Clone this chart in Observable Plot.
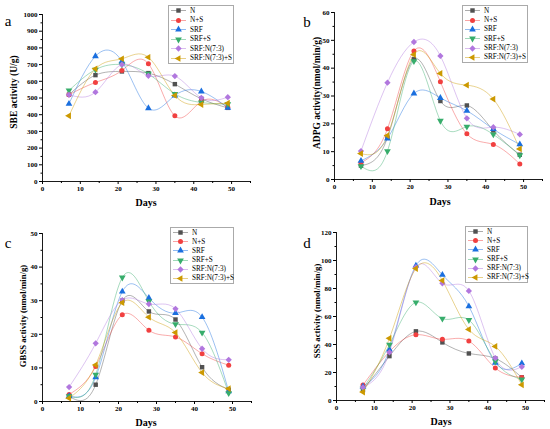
<!DOCTYPE html>
<html><head><meta charset="utf-8">
<script src="https://cdn.jsdelivr.net/npm/d3@7"></script>
<script src="https://cdn.jsdelivr.net/npm/@observablehq/plot@0.6"></script>
<style>
body{margin:0;background:#fff;font-family:"Liberation Serif",serif;}
#wrap{position:relative;width:550px;height:429px;overflow:hidden;background:#fff}
.panel{position:absolute;width:275px;height:214px}
.panel svg{position:absolute;left:0;top:0}
.ylab,.xlab,.letter{position:absolute;white-space:nowrap;color:#000;line-height:1}
.ylab{font-weight:bold;transform:translate(-50%,-50%) rotate(-90deg)}
.xlab{font-weight:bold;font-size:10px;transform:translate(-50%,-50%)}
.letter{font-size:15px;transform:translate(-50%,-50%)}
.legend{position:absolute;border:0.6px solid #aaa;background:#fff;font-size:7.2px;font-family:"Liberation Serif",serif}
.legend .row{position:absolute;left:0;height:9px;display:flex;align-items:center}
</style></head>
<body><div id="wrap"></div>
<script>
const days = [7, 14, 21, 28, 35, 42, 49];
const series = ["N", "N+S", "SRF", "SRF+S", "SRF:N(7:3)", "SRF:N(7:3)+S"];
const colors = ["#515151", "#F14040", "#1A6FDF", "#37AD6B", "#B177DE", "#CC9900"];
const symbols = ["square", "circle", "triangle", "triangle", "square", "triangle"];
const rotations = [0, 0, 0, 180, 45, -90];

// rows: N, N+S, SRF, SRF+S, SRF:N(7:3), SRF:N(7:3)+S ; columns: days
const sbeValues = [
  [520, 637, 659, 649, 583, 495, 441],
  [520, 593, 665, 705, 393, 480, 445],
  [465, 750, 720, 439, 515, 539, 441],
  [545, 670, 700, 645, 525, 473, 463],
  [519, 535, 700, 633, 631, 501, 505],
  [393, 675, 735, 744, 515, 461, 469]
];
const adpgValues = [
  [5.0, 15.0, 43.2, 28.2, 26.6, 17.6, 8.9],
  [6.0, 18.2, 46.2, 35.1, 16.4, 12.6, 5.6],
  [6.7, 14.7, 30.9, 29.3, 24.7, 18.1, 12.6],
  [4.8, 10.2, 42.5, 21.1, 19.0, 16.2, 8.7],
  [10.2, 34.8, 49.4, 44.4, 22.0, 18.8, 16.2],
  [9.3, 15.8, 44.9, 38.1, 33.9, 28.9, 11.0]
];
const gbssValues = [
  [1.5, 5.0, 30.0, 26.8, 24.4, 10.2, 3.5],
  [2.1, 10.4, 25.8, 21.2, 19.2, 14.2, 10.8],
  [1.6, 7.2, 32.7, 30.8, 26.3, 25.1, 3.0],
  [1.6, 8.0, 36.9, 29.8, 23.0, 20.5, 2.5],
  [4.3, 17.3, 30.2, 29.0, 27.6, 15.7, 12.4],
  [1.0, 10.9, 29.4, 25.1, 20.5, 8.6, 3.8]
];
const sssValues = [
  [7.5, 31.7, 49.4, 41.5, 33.6, 30.0, 16.5],
  [11.0, 35.0, 47.0, 43.7, 42.5, 23.2, 16.5],
  [10.0, 36.3, 96.4, 89.7, 67.3, 27.0, 26.5],
  [8.5, 39.9, 70.1, 58.5, 57.5, 28.0, 15.0],
  [9.3, 34.4, 95.2, 83.7, 78.3, 30.3, 24.1],
  [6.0, 44.4, 94.2, 85.7, 50.8, 38.6, 11.2]
];

const panels = [
  {left:0, top:0, letter:"a", letterPos:[8,21], ylabel:"SBE activity (U/g)", ylabPos:[15,92], ylabSize:9.5,
   xlabPos:[146,203], values:sbeValues, yMax:1000, yStep:100,
   m:{l:42,r:25,t:14,b:33}, legend:{x:168,y:5,w:64,h:57}},
  {left:275, top:0, letter:"b", letterPos:[32,22], ylabel:"ADPG activity(nmol/min/g)", ylabPos:[43,93], ylabSize:9.5,
   xlabPos:[165,202], values:adpgValues, yMax:60, yStep:10,
   m:{l:59,r:8,t:12,b:35}, legend:{x:187,y:5,w:64,h:56}},
  {left:0, top:214, letter:"c", letterPos:[8,29], ylabel:"GBSS activity (nmol/min/g)", ylabPos:[23,102], ylabSize:8.7,
   xlabPos:[146,209], values:gbssValues, yMax:50, yStep:10,
   m:{l:42,r:24,t:19,b:27}, legend:{x:170,y:13,w:62,h:55}},
  {left:275, top:214, letter:"d", letterPos:[32,29], ylabel:"SSS activity (nmol/min/g)", ylabPos:[42,97], ylabSize:8.7,
   xlabPos:[166,208], values:sssValues, yMax:120, yStep:20,
   m:{l:61,r:6,t:18,b:28}, legend:{x:190,y:12,w:61,h:55}}
];

function toRows(values) {
  const out = [];
  series.forEach((s, i) => days.forEach((d, j) => out.push({s, day: d, v: values[i][j]})));
  return out;
}

const wrap = document.getElementById("wrap");
const R = 2.5;
panels.forEach(p => {
  const div = document.createElement("div");
  div.className = "panel";
  div.style.left = p.left + "px";
  div.style.top = p.top + "px";
  wrap.appendChild(div);
  const data = toRows(p.values);
  const majorY = d3.range(0, p.yMax + 1e-9, p.yStep);
  const minorY = d3.range(p.yStep / 2, p.yMax, p.yStep);
  const chart = Plot.plot({
    width: 275, height: 214,
    marginLeft: p.m.l, marginRight: p.m.r, marginTop: p.m.t, marginBottom: p.m.b,
    x: {domain: [0, 55]},
    y: {domain: [0, p.yMax]},
    color: {domain: series, range: colors},
    symbol: {domain: series, range: symbols},
    style: {fontFamily: "'Liberation Serif', serif", fontSize: "7px", fontWeight: "bold", background: "transparent", color: "#000"},
    marks: [
      Plot.ruleX([0], {strokeWidth: 0.9}),
      Plot.ruleY([0], {strokeWidth: 0.9}),
      Plot.axisX({ticks: [0, 10, 20, 30, 40, 50], tickSize: 3, tickPadding: 2, tickFormat: d3.format("d"), label: null}),
      Plot.axisX({ticks: [5, 15, 25, 35, 45, 55], tickSize: 2, tickFormat: () => "", label: null}),
      Plot.axisY({ticks: majorY, tickSize: 3, tickPadding: 2, tickFormat: d3.format("d"), label: null}),
      Plot.axisY({ticks: minorY, tickSize: 1.5, tickFormat: () => "", label: null}),
      Plot.line(data, {x: "day", y: "v", z: "s", stroke: "s", curve: "natural", strokeWidth: 0.8, strokeOpacity: 0.55}),
      Plot.dot(data, {x: "day", y: "v", symbol: "s", fill: "s", r: R,
        rotate: d => rotations[series.indexOf(d.s)]})
    ]
  });
  div.appendChild(chart);

  const letter = document.createElement("div");
  letter.className = "letter";
  letter.textContent = p.letter;
  letter.style.left = p.letterPos[0] + "px";
  letter.style.top = p.letterPos[1] + "px";
  div.appendChild(letter);

  const yl = document.createElement("div");
  yl.className = "ylab";
  yl.textContent = p.ylabel;
  yl.style.left = p.ylabPos[0] + "px";
  yl.style.top = p.ylabPos[1] + "px";
  yl.style.fontSize = p.ylabSize + "px";
  div.appendChild(yl);

  const xl = document.createElement("div");
  xl.className = "xlab";
  xl.textContent = "Days";
  xl.style.left = p.xlabPos[0] + "px";
  xl.style.top = p.xlabPos[1] + "px";
  div.appendChild(xl);

  const lg = document.createElement("div");
  lg.className = "legend";
  lg.style.left = p.legend.x + "px";
  lg.style.top = p.legend.y + "px";
  lg.style.width = p.legend.w + "px";
  lg.style.height = p.legend.h + "px";
  const rowH = p.legend.h / 6;
  const symTypes = {square: d3.symbolSquare, circle: d3.symbolCircle, triangle: d3.symbolTriangle};
  series.forEach((s, i) => {
    const row = document.createElement("div");
    row.className = "row";
    row.style.top = (i * rowH + rowH / 2 - 4.5) + "px";
    const svg = d3.create("svg").attr("width", 19).attr("height", 9).style("position", "static");
    svg.append("line").attr("x1", 2).attr("x2", 17).attr("y1", 4.5).attr("y2", 4.5)
      .attr("stroke", colors[i]).attr("stroke-width", 0.8).attr("stroke-opacity", 0.6);
    svg.append("path").attr("d", d3.symbol(symTypes[symbols[i]], R * R * Math.PI)())
      .attr("fill", colors[i]).attr("transform", `translate(9.5,4.5) rotate(${rotations[i]})`);
    row.appendChild(svg.node());
    const t = document.createElement("span");
    t.textContent = s;
    t.style.marginLeft = "2px";
    row.appendChild(t);
    lg.appendChild(row);
  });
  div.appendChild(lg);
});
</script>
</body></html>
